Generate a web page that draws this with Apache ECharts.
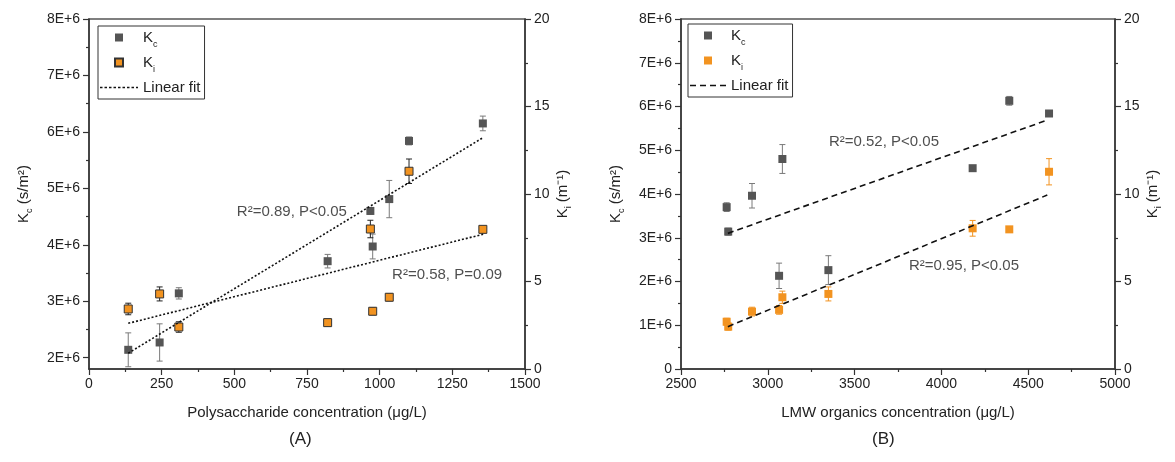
<!DOCTYPE html>
<html>
<head>
<meta charset="utf-8">
<script src="https://cdn.jsdelivr.net/npm/echarts@6.0.0/dist/echarts.min.js"></script>
<style>
html, body { margin: 0; padding: 0; background: #fff; }
#main { width: 1175px; height: 462px; }
</style>
</head>
<body>
<div id="main"></div>
<script>
// (A) polysaccharide concentration, ug/L
var polyX = [135, 243, 309, 821, 968, 976, 1033, 1101, 1355];
var polyKc = [2.14e6, 2.27e6, 3.14e6, 3.71e6, 4.60e6, 3.97e6, 4.81e6, 5.84e6, 6.15e6];
var polyKcErr = [0.30e6, 0.33e6, 0.10e6, 0.12e6, 0.06e6, 0.22e6, 0.33e6, 0.07e6, 0.13e6];
var polyKi = [3.43, 4.29, 2.40, 2.65, 8.00, 3.30, 4.10, 11.30, 7.98];
var polyKiErr = [0.33, 0.40, 0.30, 0.20, 0.50, 0.20, 0.20, 0.70, 0.10];
var polyFitX = [135, 1356];
var polyKcFit = [2.08e6, 5.90e6];
var polyKiFit = [2.61, 7.70];

// (B) LMW organics concentration, ug/L
var lmwX = [2763, 2772, 2909, 3065, 3084, 3349, 4180, 4391, 4620];
var lmwKc = [3.70e6, 3.14e6, 3.96e6, 2.13e6, 4.80e6, 2.26e6, 4.59e6, 6.13e6, 5.84e6];
var lmwKcErr = [0.10e6, 0.08e6, 0.28e6, 0.29e6, 0.33e6, 0.33e6, 0.05e6, 0.10e6, 0.05e6];
var lmwKi = [2.70, 2.42, 3.28, 3.38, 4.10, 4.29, 8.04, 7.98, 11.27];
var lmwKiErr = [0.20, 0.20, 0.25, 0.25, 0.35, 0.40, 0.45, 0.10, 0.75];
var lmwFitX = [2770, 4610];
var lmwKcFit = [3.10e6, 5.69e6];
var lmwKiFit = [2.42, 9.94];

// fit annotations: [x, Kc-axis y, text]
var polyNotes = [[698, 4.58e6, 'R²=0.89, P<0.05'], [1232, 3.47e6, 'R²=0.58, P=0.09']];
var lmwNotes = [[3669, 5.19e6, 'R²=0.52, P<0.05'], [4130, 2.35e6, 'R²=0.95, P<0.05']];

var kcTicks = [2e6, 3e6, 4e6, 5e6, 6e6, 7e6, 8e6];
var kcMinorTicks = [2.5e6, 3.5e6, 4.5e6, 5.5e6, 6.5e6, 7.5e6];

var FONT = 'Liberation Sans, Arial, sans-serif';
var GRAY = '#555';
var ORANGE = '#f29320';
var INK = '#222';
var SQUARE = 'path://M0 0H10V10H0Z';

// legend icon for a broken line, width w, dash on/off
function dashIcon(w, on, off) {
	var p = 'path://';
	for (var x = 0; x < w; x += on + off) {
		var e = Math.min(x + on, w);
		p += 'M' + x + ' 0H' + e + 'V1.6H' + x + 'Z';
	}
	return p;
}

function zip(xs, ys, es) {
	var out = [];
	for (var i = 0; i < xs.length; i++) {
		out.push(es ? [xs[i], ys[i], es[i]] : [xs[i], ys[i]]);
	}
	return out;
}

function errRender(params, api) {
	var x = api.value(0), y = api.value(1), e = api.value(2);
	var top = api.coord([x, y + e]);
	var bot = api.coord([x, y - e]);
	var w = 3;
	var style = { stroke: api.visual('color'), lineWidth: 1 };
	return {
		type: 'group',
		children: [
			{ type: 'line', shape: { x1: top[0], y1: top[1], x2: bot[0], y2: bot[1] }, style: style },
			{ type: 'line', shape: { x1: top[0] - w, y1: top[1], x2: top[0] + w, y2: top[1] }, style: style },
			{ type: 'line', shape: { x1: bot[0] - w, y1: bot[1], x2: bot[0] + w, y2: bot[1] }, style: style }
		]
	};
}

var richSub = {
	n: { fontSize: 15, fontFamily: FONT, color: INK },
	s: { fontSize: 9, fontFamily: FONT, color: INK, verticalAlign: 'bottom', padding: [0, 0, -3, 0] }
};

function legendName(name) {
	var n = name.replace('_B', '');
	if (n === 'Kc') return '{n|K}{s|c}';
	if (n === 'Ki') return '{n|K}{s|i}';
	return '{n|' + n + '}';
}

function plainNum(v) {
	return String(v);
}

function valueAxis(opt) {
	var base = {
		type: 'value',
		axisLine: { show: true, lineStyle: { color: '#333', width: 1.5 } },
		axisTick: { show: true, inside: false, length: 6, lineStyle: { color: '#333', width: 1.2 } },
		minorTick: { show: true, splitNumber: 2, length: 3, lineStyle: { color: '#333', width: 1.2 } },
		axisLabel: { color: INK, fontSize: 14, fontFamily: FONT, margin: 9, formatter: plainNum },
		splitLine: { show: false },
		nameLocation: 'middle',
		nameTextStyle: { color: INK, fontSize: 15, fontFamily: FONT, rich: richSub }
	};
	for (var k in opt) base[k] = opt[k];
	return base;
}

function panelSeries(tag, xi, yl, yr, xs, kc, kcErr, ki, kiErr, fitX, kcFit, kiFit, notes, kiBorder, kiErrColor, dash) {
	var noteData = [];
	for (var i = 0; i < notes.length; i++) {
		noteData.push({ value: [notes[i][0], notes[i][1]], name: notes[i][2] });
	}
	return [{
		type: 'custom', name: 'errKc' + tag, xAxisIndex: xi, yAxisIndex: yl, z: 1, silent: true,
		itemStyle: { color: '#7a7a7a' },
		encode: { x: 0, y: 1 },
		renderItem: errRender,
		data: zip(xs, kc, kcErr)
	}, {
		type: 'custom', name: 'errKi' + tag, xAxisIndex: xi, yAxisIndex: yr, z: 1, silent: true,
		itemStyle: { color: kiErrColor },
		encode: { x: 0, y: 1 },
		renderItem: errRender,
		data: zip(xs, ki, kiErr)
	}, {
		type: 'scatter', name: 'Kc' + tag, xAxisIndex: xi, yAxisIndex: yl, z: 3,
		symbol: 'rect', symbolSize: 8,
		itemStyle: { color: GRAY, opacity: 1 },
		data: zip(xs, kc)
	}, {
		type: 'scatter', name: 'Ki' + tag, xAxisIndex: xi, yAxisIndex: yr, z: 3,
		symbol: 'rect', symbolSize: 8,
		itemStyle: kiBorder ? { color: ORANGE, borderColor: '#333', borderWidth: 1, opacity: 1 } : { color: ORANGE, opacity: 1 },
		data: zip(xs, ki)
	}, {
		type: 'line', name: 'Linear fit' + tag, xAxisIndex: xi, yAxisIndex: yl, z: 4,
		symbol: 'none', silent: true,
		itemStyle: { color: '#111' },
		lineStyle: { color: '#111', width: 1.6, type: dash },
		data: zip(fitX, kcFit)
	}, {
		type: 'line', name: 'Linear fit' + tag, xAxisIndex: xi, yAxisIndex: yr, z: 4,
		symbol: 'none', silent: true,
		itemStyle: { color: '#111' },
		lineStyle: { color: '#111', width: 1.6, type: dash },
		data: zip(fitX, kiFit)
	}, {
		type: 'scatter', name: 'note' + tag, xAxisIndex: xi, yAxisIndex: yl, z: 5,
		symbolSize: 1, silent: true,
		itemStyle: { color: 'rgba(0,0,0,0)' },
		label: { show: true, position: 'inside', formatter: '{b}', color: INK, fontSize: 15, fontFamily: FONT },
		data: noteData
	}];
}

function legendFor(tag, left, top, iconW, dash) {
	return {
		orient: 'vertical',
		left: left,
		top: top,
		padding: [3, 4, 3, 2],
		itemGap: 5,
		itemWidth: iconW,
		itemHeight: 8,
		symbolKeepAspect: true,
		borderColor: '#333',
		borderWidth: 1,
		selectedMode: false,
		formatter: legendName,
		textStyle: { color: INK, fontSize: 15, fontFamily: FONT, lineHeight: 17, rich: richSub },
		data: [
			{ name: 'Kc' + tag, icon: SQUARE },
			{ name: 'Ki' + tag, icon: SQUARE },
			{ name: 'Linear fit' + tag, icon: dashIcon(iconW, dash[0], dash[1]) }
		]
	};
}

var chart = echarts.init(document.getElementById('main'), null, { renderer: 'canvas' });

var series = [].concat(
	panelSeries('', 0, 0, 1, polyX, polyKc, polyKcErr, polyKi, polyKiErr, polyFitX, polyKcFit, polyKiFit, polyNotes, true, '#222', [2, 2]),
	panelSeries('_B', 1, 3, 4, lmwX, lmwKc, lmwKcErr, lmwKi, lmwKiErr, lmwFitX, lmwKcFit, lmwKiFit, lmwNotes, false, ORANGE, [6, 4])
);

var option = {
	animation: false,
	backgroundColor: '#fff',
	textStyle: { fontFamily: FONT },
	grid: [
		{ left: 89, top: 19, width: 436, height: 350, show: true, borderColor: '#555', borderWidth: 1.5, backgroundColor: 'transparent' },
		{ left: 681, top: 19, width: 434, height: 350, show: true, borderColor: '#555', borderWidth: 1.5, backgroundColor: 'transparent' }
	],
	legend: [legendFor('', 98, 26, 38, [2.5, 2]), legendFor('_B', 688, 24, 36, [6, 4])],
	xAxis: [
		valueAxis({ gridIndex: 0, min: 0, max: 1500, interval: 250, position: 'bottom',
			name: 'Polysaccharide concentration (μg/L)', nameGap: 36,
			axisLabel: { color: INK, fontSize: 14, fontFamily: FONT, margin: 8, formatter: plainNum } }),
		valueAxis({ gridIndex: 1, min: 2500, max: 5000, interval: 500, position: 'bottom',
			name: 'LMW organics concentration (μg/L)', nameGap: 36,
			axisLabel: { color: INK, fontSize: 14, fontFamily: FONT, margin: 8, formatter: plainNum } })
	],
	yAxis: [
		valueAxis({ gridIndex: 0, min: 1.8e6, max: 8e6, position: 'left',
			name: '{n|K}{s|c}{n| (s/m²)}', nameGap: 58, nameRotate: 90,
			minorTick: { show: false },
			axisTick: { show: true, inside: false, length: 6, customValues: kcTicks, lineStyle: { color: '#333', width: 1.2 } },
			axisLabel: { color: INK, fontSize: 14, fontFamily: FONT, margin: 9, customValues: kcTicks,
				formatter: function(v) { return (v / 1e6) + 'E+6'; } } }),
		valueAxis({ gridIndex: 0, min: 0, max: 20, interval: 5, position: 'right',
			name: '{n|K}{s|i}{n| (m⁻¹)}', nameGap: 30, nameRotate: 90 }),
		valueAxis({ gridIndex: 0, min: 1.8e6, max: 8e6, position: 'left',
			axisLine: { show: false },
			minorTick: { show: false },
			axisLabel: { show: false },
			axisTick: { show: true, inside: false, length: 3, customValues: kcMinorTicks, lineStyle: { color: '#333', width: 1.2 } } }),
		valueAxis({ gridIndex: 1, min: 0, max: 8e6, interval: 1e6, position: 'left',
			name: '{n|K}{s|c}{n| (s/m²)}', nameGap: 58, nameRotate: 90,
			axisLabel: { color: INK, fontSize: 14, fontFamily: FONT, margin: 9,
				formatter: function(v) { return v === 0 ? '0' : (v / 1e6) + 'E+6'; } } }),
		valueAxis({ gridIndex: 1, min: 0, max: 20, interval: 5, position: 'right',
			name: '{n|K}{s|i}{n| (m⁻¹)}', nameGap: 30, nameRotate: 90 })
	],
	graphic: [
		{ type: 'text', left: 289, top: 431, style: { text: '(A)', fill: INK, fontSize: 17, fontFamily: FONT } },
		{ type: 'text', left: 872, top: 431, style: { text: '(B)', fill: INK, fontSize: 17, fontFamily: FONT } }
	],
	series: series
};

chart.setOption(option);
</script>
</body>
</html>
